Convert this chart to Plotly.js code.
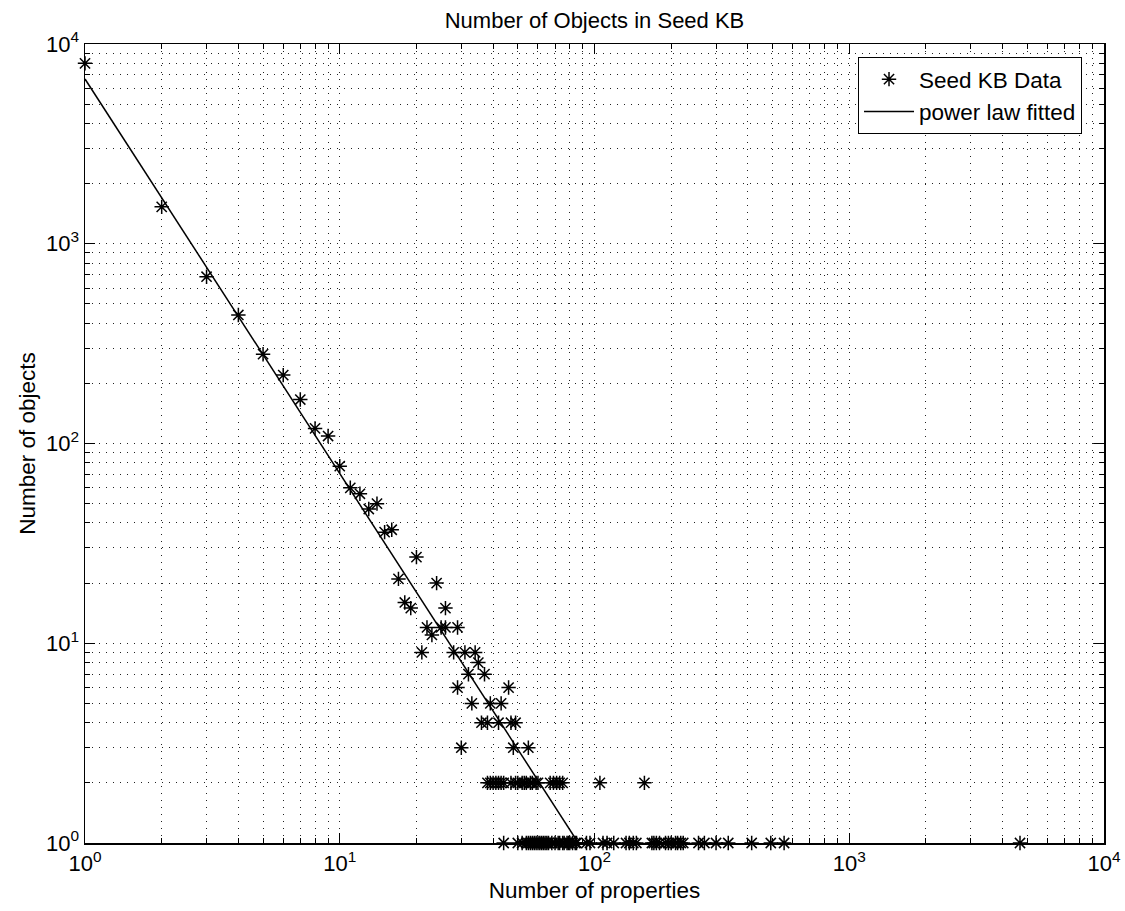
<!DOCTYPE html>
<html><head><meta charset="utf-8">
<script src="https://cdn.plot.ly/plotly-3.0.1.min.js"></script>
<style>html,body{margin:0;padding:0;background:#fff}#chart{width:1125px;height:911px}</style>
</head><body><div id="chart"></div>
<script>
// Seed KB data: number of properties (x) vs number of objects (y)
const seedX = [1, 2, 3, 4, 5, 6, 7, 8, 9, 10, 11, 12, 13, 14, 15, 16, 17, 18, 19, 20,
  21, 22, 23, 24, 25, 26, 26, 28, 29, 29, 30, 31, 32, 33, 34, 35, 36, 37, 38, 39,
  42, 43, 46, 47, 48, 49, 55,
  // y = 2 row
  38, 39, 40, 41, 42, 43, 44, 47, 49, 50, 52, 53, 54, 56, 57, 59, 60, 67, 69, 71, 73, 75, 105, 157,
  // y = 1 row
  44, 50, 52, 54, 55, 56, 57, 58, 59, 60, 61, 62, 63, 64, 65, 66, 68, 70, 72, 73, 75, 76, 78, 79,
  80, 82, 84, 85, 93, 96, 108, 112, 119, 133, 137, 142, 146, 168, 171, 175, 180, 190, 195, 200,
  208, 212, 218, 223, 256, 270, 300, 335, 414, 492, 555, 4680];
const seedY = [8000, 1530, 684, 440, 280, 220, 166, 119, 109, 77, 60, 56, 47, 50, 36, 37, 21, 16, 15, 27,
  9, 12, 11, 20, 12, 15, 12, 9, 6, 12, 3, 9, 7, 5, 9, 8, 4, 7, 4, 5,
  4, 5, 6, 4, 3, 4, 3,
  2, 2, 2, 2, 2, 2, 2, 2, 2, 2, 2, 2, 2, 2, 2, 2, 2, 2, 2, 2, 2, 2, 2, 2,
  1, 1, 1, 1, 1, 1, 1, 1, 1, 1, 1, 1, 1, 1, 1, 1, 1, 1, 1, 1, 1, 1, 1, 1,
  1, 1, 1, 1, 1, 1, 1, 1, 1, 1, 1, 1, 1, 1, 1, 1, 1, 1, 1, 1,
  1, 1, 1, 1, 1, 1, 1, 1, 1, 1, 1, 1];
// Power law fit endpoints (y = a * x^-b, drawn down to y = 1)
const fitX = [1, 86.4];
const fitY = [6680, 1];
const tickVals = [1, 10, 100, 1000, 10000];
const tickText = ['10<sup>0</sup>', '10<sup>1</sup>', '10<sup>2</sup>', '10<sup>3</sup>', '10<sup>4</sup>'];
const seriesNames = ['Seed KB Data', 'power law fitted'];

const FONT = 'Liberation Sans, Arial, Helvetica, sans-serif';
const gridDash = '1px,6px';

function axis(extra) {
  return Object.assign({
    type: 'log',
    tickmode: 'array',
    tickvals: tickVals,
    ticktext: tickText,
    ticks: 'inside',
    ticklen: 10,
    tickwidth: 1,
    tickcolor: '#000',
    showline: true,
    linecolor: '#000',
    linewidth: 1.5,
    mirror: 'ticks',
    showgrid: true,
    gridcolor: '#222',
    gridwidth: 1,
    griddash: gridDash,
    zeroline: false,
    tickfont: {family: FONT, size: 22, color: '#000'},
    minor: {dtick: 'D1', ticks: 'inside', ticklen: 5, tickcolor: '#000', showgrid: true,
            gridcolor: '#222', gridwidth: 1, griddash: gridDash}
  }, extra);
}

const data = [
  {x: seedX, y: seedY, type: 'scatter', mode: 'markers', name: seriesNames[0],
   marker: {symbol: 'asterisk-open', size: 12, color: '#000', line: {color: '#000', width: 1.5}},
   cliponaxis: false},
  {x: fitX, y: fitY, type: 'scatter', mode: 'lines', name: seriesNames[1],
   line: {color: '#000', width: 1.5}}
];

const layout = {
  width: 1125, height: 911,
  margin: {l: 85, r: 21, t: 44, b: 68, pad: 0},
  paper_bgcolor: '#fff', plot_bgcolor: '#fff',
  font: {family: FONT, color: '#000'},
  title: {text: 'Number of Objects in Seed KB', font: {family: FONT, size: 22, color: '#000'},
          x: 0.5, xref: 'paper', xanchor: 'center', y: 1 - 20/911, yref: 'container', yanchor: 'middle'},
  xaxis: axis({range: [0, 4], title: {text: 'Number of properties', font: {family: FONT, size: 22.5}, standoff: 7}}),
  yaxis: axis({range: [0, 4], title: {text: 'Number of objects', font: {family: FONT, size: 22.5}, standoff: 4}}),
  showlegend: true,
  legend: {x: 0.7586, y: 0.9837, xanchor: 'left', yanchor: 'top', bgcolor: '#fff',
           bordercolor: '#000', borderwidth: 1, font: {family: FONT, size: 22.5, color: '#000'},
           itemwidth: 50, tracegroupgap: 0}
};

Plotly.newPlot('chart', data, layout, {staticPlot: true, displayModeBar: false});
</script></body></html>
